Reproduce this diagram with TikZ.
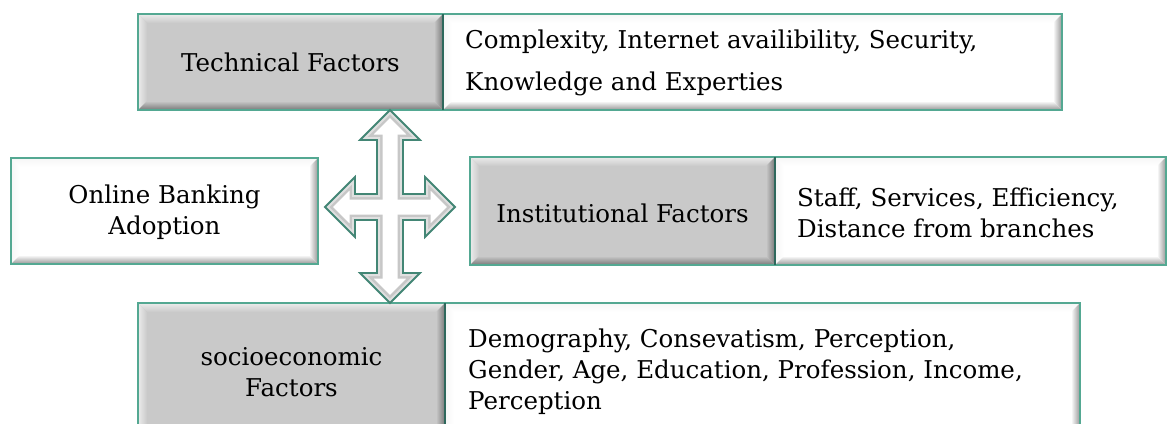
\documentclass[tikz,border=0pt]{standalone}
\usepackage{fontspec}
\setmainfont{DejaVu Serif}
\usetikzlibrary{calc}

\definecolor{frame}{RGB}{84,168,146}
\definecolor{framedark}{RGB}{46,104,92}
\definecolor{panel}{RGB}{201,201,201}
\definecolor{panellight}{RGB}{236,236,236}
\definecolor{paneldark}{RGB}{120,120,120}
\definecolor{whitedark}{RGB}{150,150,150}
\definecolor{whitelight}{RGB}{246,246,246}

% four bevelled faces inside a box: #1 face colour, #2 lit edge, #3 shaded edge
\newcommand\bevelfaces[3]{%
  \coordinate (bNW) at (path picture bounding box.north west);
  \coordinate (bNE) at (path picture bounding box.north east);
  \coordinate (bSW) at (path picture bounding box.south west);
  \coordinate (bSE) at (path picture bounding box.south east);
  \shade[top color=#2, bottom color=#1]
    (bNW) -- (bNE) -- ($(bNE)+(-9pt,-9pt)$) -- ($(bNW)+(9pt,-9pt)$) -- cycle;
  \shade[left color=#2, right color=#1]
    (bNW) -- (bSW) -- ($(bSW)+(9pt,9pt)$) -- ($(bNW)+(9pt,-9pt)$) -- cycle;
  \shade[top color=#1, bottom color=#3]
    (bSW) -- (bSE) -- ($(bSE)+(-9pt,9pt)$) -- ($(bSW)+(9pt,9pt)$) -- cycle;
  \shade[left color=#1, right color=#3]
    (bNE) -- (bSE) -- ($(bSE)+(-9pt,9pt)$) -- ($(bNE)+(-9pt,-9pt)$) -- cycle;
}

\tikzset{
  x=1pt, y=-1pt,
  box/.style={rectangle, inner sep=0pt, outer sep=0pt, draw=frame, line width=2.8pt},
  greybox/.style={box, fill=panel,
    path picture={\bevelfaces{panel}{panellight}{paneldark}}},
  whitebox/.style={box, fill=white,
    path picture={\bevelfaces{white}{whitelight}{whitedark}}},
  label/.style={inner sep=0pt, font=\fontsize{24.5}{31}\selectfont, text=black},
  sep/.style={draw=framedark, line width=2.4pt},
}

\begin{document}
\begin{tikzpicture}
\useasboundingbox (0,0) rectangle (1169,423);
\clip (0,0) rectangle (1169,423);

% top row: technical factors
\node[greybox,  minimum width=305pt, minimum height=96pt] (techL) at (290.5,62) {};
\node[whitebox, minimum width=619pt, minimum height=96pt] (techR) at (752.5,62) {};
\draw[sep] (techL.north east) -- (techL.south east);

% middle row
\node[whitebox, minimum width=307pt, minimum height=106pt] (online) at (164.5,211) {};
\node[greybox,  minimum width=305pt, minimum height=108pt] (instL) at (622.5,211) {};
\node[whitebox, minimum width=391pt, minimum height=108pt] (instR) at (970.5,211) {};
\draw[sep] (instL.north east) -- (instL.south east);

% bottom row: socioeconomic factors
\node[greybox,  minimum width=307pt, minimum height=140pt] (socL) at (291.5,373) {};
\node[whitebox, minimum width=635pt, minimum height=140pt] (socR) at (762.5,373) {};
\draw[sep] (socL.north east) -- (socL.south east);

% texts
\node[label] (tTech) at (techL.center) {Technical Factors};
\node[label, anchor=west, align=left, font=\fontsize{24.5}{41.5}\selectfont]
  (tTechD) at (465,63) {Complexity, Internet availibility, Security,\\Knowledge and Experties};
\node[label, align=center] (tOnline) at (164.5,212) {Online Banking\\Adoption};
\node[label] (tInst) at (622.5,213) {Institutional Factors};
\node[label, anchor=west, align=left] (tInstD) at (797,213)
  {Staff, Services, Efficiency,\\Distance from branches};
\node[label, align=center] (tSoc) at (291.5,372) {socioeconomic\\Factors};
\node[label, anchor=west, align=left] (tSocD) at (468,372)
  {Demography, Consevatism, Perception,\\Gender, Age, Education, Profession, Income,\\Perception};

% four-way arrow between the rows
\def\crosspath{(390,110) -- (420,140) -- (403,140) -- (403,194) -- (425,194) -- (425,177)
  -- (455,207) -- (425,237) -- (425,220) -- (403,220) -- (403,273) -- (420,273)
  -- (390,303) -- (360,273) -- (377,273) -- (377,220) -- (355,220) -- (355,237)
  -- (325,207) -- (355,177) -- (355,194) -- (377,194) -- (377,140) -- (360,140) -- cycle}
\begin{scope}
  \clip \crosspath;
  \fill[white] \crosspath;
  \draw[line width=11pt, black!22, line join=miter] \crosspath;
  \draw[line width=6pt, black!12, line join=miter] \crosspath;
\end{scope}
\draw[frame!80!black, line width=1.8pt, line join=miter] \crosspath;
\end{tikzpicture}
\end{document}
